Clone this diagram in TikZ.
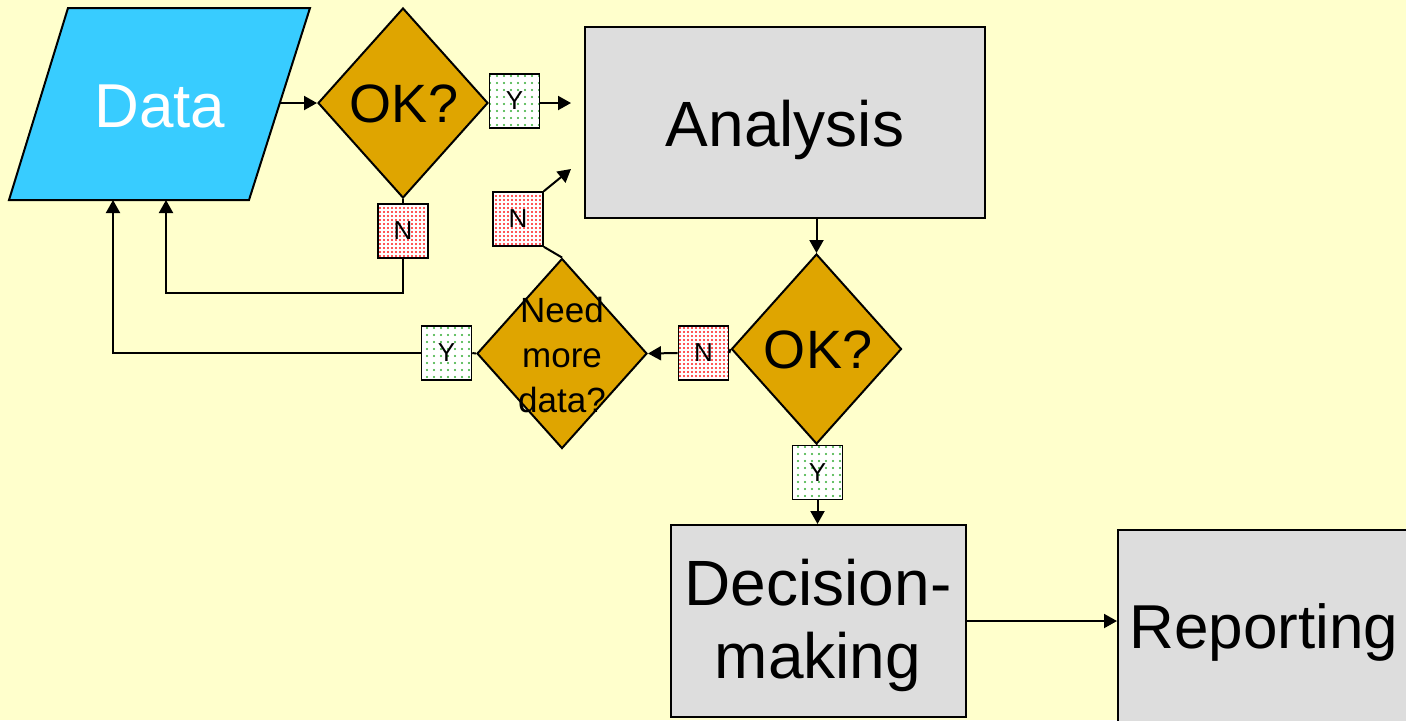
\documentclass[tikz,border=0pt]{standalone}
\usepackage{fontspec}
\setmainfont{Liberation Sans}
\usetikzlibrary{shapes.geometric,patterns.meta,arrows.meta}
\definecolor{bg}{HTML}{FFFFCC}
\definecolor{datablue}{HTML}{38CCFF}
\definecolor{gold}{HTML}{DFA500}
\definecolor{boxgray}{HTML}{DDDDDD}
\begin{document}
\begin{tikzpicture}[x=0.5pt,y=-0.5pt,
  conn/.style={line width=1pt},
  arr/.style={conn,-{Triangle[length=6.5pt,width=7pt]}},
  procbox/.style={draw,line width=1pt,fill=boxgray,inner sep=0pt},
  dia/.style={diamond,draw,line width=1pt,fill=gold,inner sep=0pt,minimum width=85pt,minimum height=95pt},
  yesbox/.style={draw,line width=0.8pt,preaction={fill=white},pattern={Dots[distance=3.5pt,radius=0.6pt]},pattern color=green!60!black!80,
    minimum width=25pt,minimum height=27pt,inner sep=0pt,font=\fontsize{13}{15}\selectfont},
  nobox/.style={draw,line width=0.8pt,preaction={fill=white},pattern={Dots[distance=2pt,radius=0.55pt]},pattern color=red!90,
    minimum width=25pt,minimum height=27pt,inner sep=0pt,font=\fontsize{13}{15}\selectfont},
  big/.style={font=\fontsize{32}{36.5}\selectfont,inner sep=0pt,align=center},
  ok/.style={font=\fontsize{27}{30}\selectfont,inner sep=0pt}
]
\fill[bg] (0,0) rectangle (1406,720);
\useasboundingbox (0,0) rectangle (1406,720);
\clip (0,0) rectangle (1406,720);

% Data
\draw[line width=1pt,fill=datablue] (68,8) -- (310,8) -- (249,200) -- (9,200) -- cycle;
\node[big,anchor=base,text=white,font=\fontsize{31}{36}\selectfont] (data) at (160,127) {Data};
\coordinate (dR) at (279,103);
\coordinate (dB1) at (113,200);
\coordinate (dB2) at (166,200);

% Analysis
\node[procbox,minimum width=200pt,minimum height=95.5pt] (an) at (785,122.5) {};
\node[big,anchor=base] (antext) at (785,146) {Analysis};

% Diamonds
\node[dia] (d1) at (403,103) {};
\node[ok,anchor=base] (d1t) at (404,122) {OK?};
\node[dia] (d2) at (562,353.5) {};
\node[inner sep=0pt,align=center,font=\fontsize{17.5}{22.5}\selectfont] (d2t) at (562,355) {Need\\more\\data?};
\node[dia] (d3) at (816.5,349) {};
\node[ok,anchor=base] (d3t) at (818,368) {OK?};

% Decision and Reporting
\node[procbox,minimum width=147.5pt,minimum height=96pt] (dec) at (818.5,621) {};
\node[big] (dect) at (818,625) {Decision-\\making};
\node[procbox,minimum width=200pt,minimum height=150pt] (rep) at (1318,680) {};
\node[big,anchor=base west,font=\fontsize{31}{36}\selectfont] (rept) at (1129,648) {Reporting};

% Y/N boxes
\node[yesbox] (y1) at (514.5,101) {Y};
\node[nobox] (n1) at (403,231) {N};
\node[nobox] (n2) at (518,219) {N};
\node[yesbox] (y3) at (446.5,353) {Y};
\node[nobox] (n4) at (703.5,353) {N};
\node[yesbox] (y5) at (817.5,472.5) {Y};

\coordinate (t1) at (571,103);
\coordinate (t2) at (571,169);
\coordinate (c1) at (166,293);

% connectors
\draw[arr] (dR) -- (d1.west);
\draw[conn] (d1.east) -- (d1.east -| y1.west);
\draw[arr] (y1.east |- t1) -- (t1);
\draw[conn] (d1.south) -- (n1.north);
\draw[arr] (n1.south) |- (c1) -- (dB2);
\draw[arr] (an.south -| d3.north) -- (d3.north);
\draw[conn] (d3.west) -- (n4.east);
\draw[arr] (n4.west) -- (d2.east);
\draw[conn] (d2.north) -- (n2.south east);
\draw[arr] (n2.north east) -- (t2);
\draw[conn] (d2.west) -- (y3.east);
\draw[arr] (y3.west) -| (dB1);
\draw[conn] (d3.south) -- (y5.north);
\draw[arr] (y5.south) -- (y5.south |- dec.north);
\draw[arr] (dec.east) -- (dec.east -| rep.west);
\end{tikzpicture}
\end{document}
